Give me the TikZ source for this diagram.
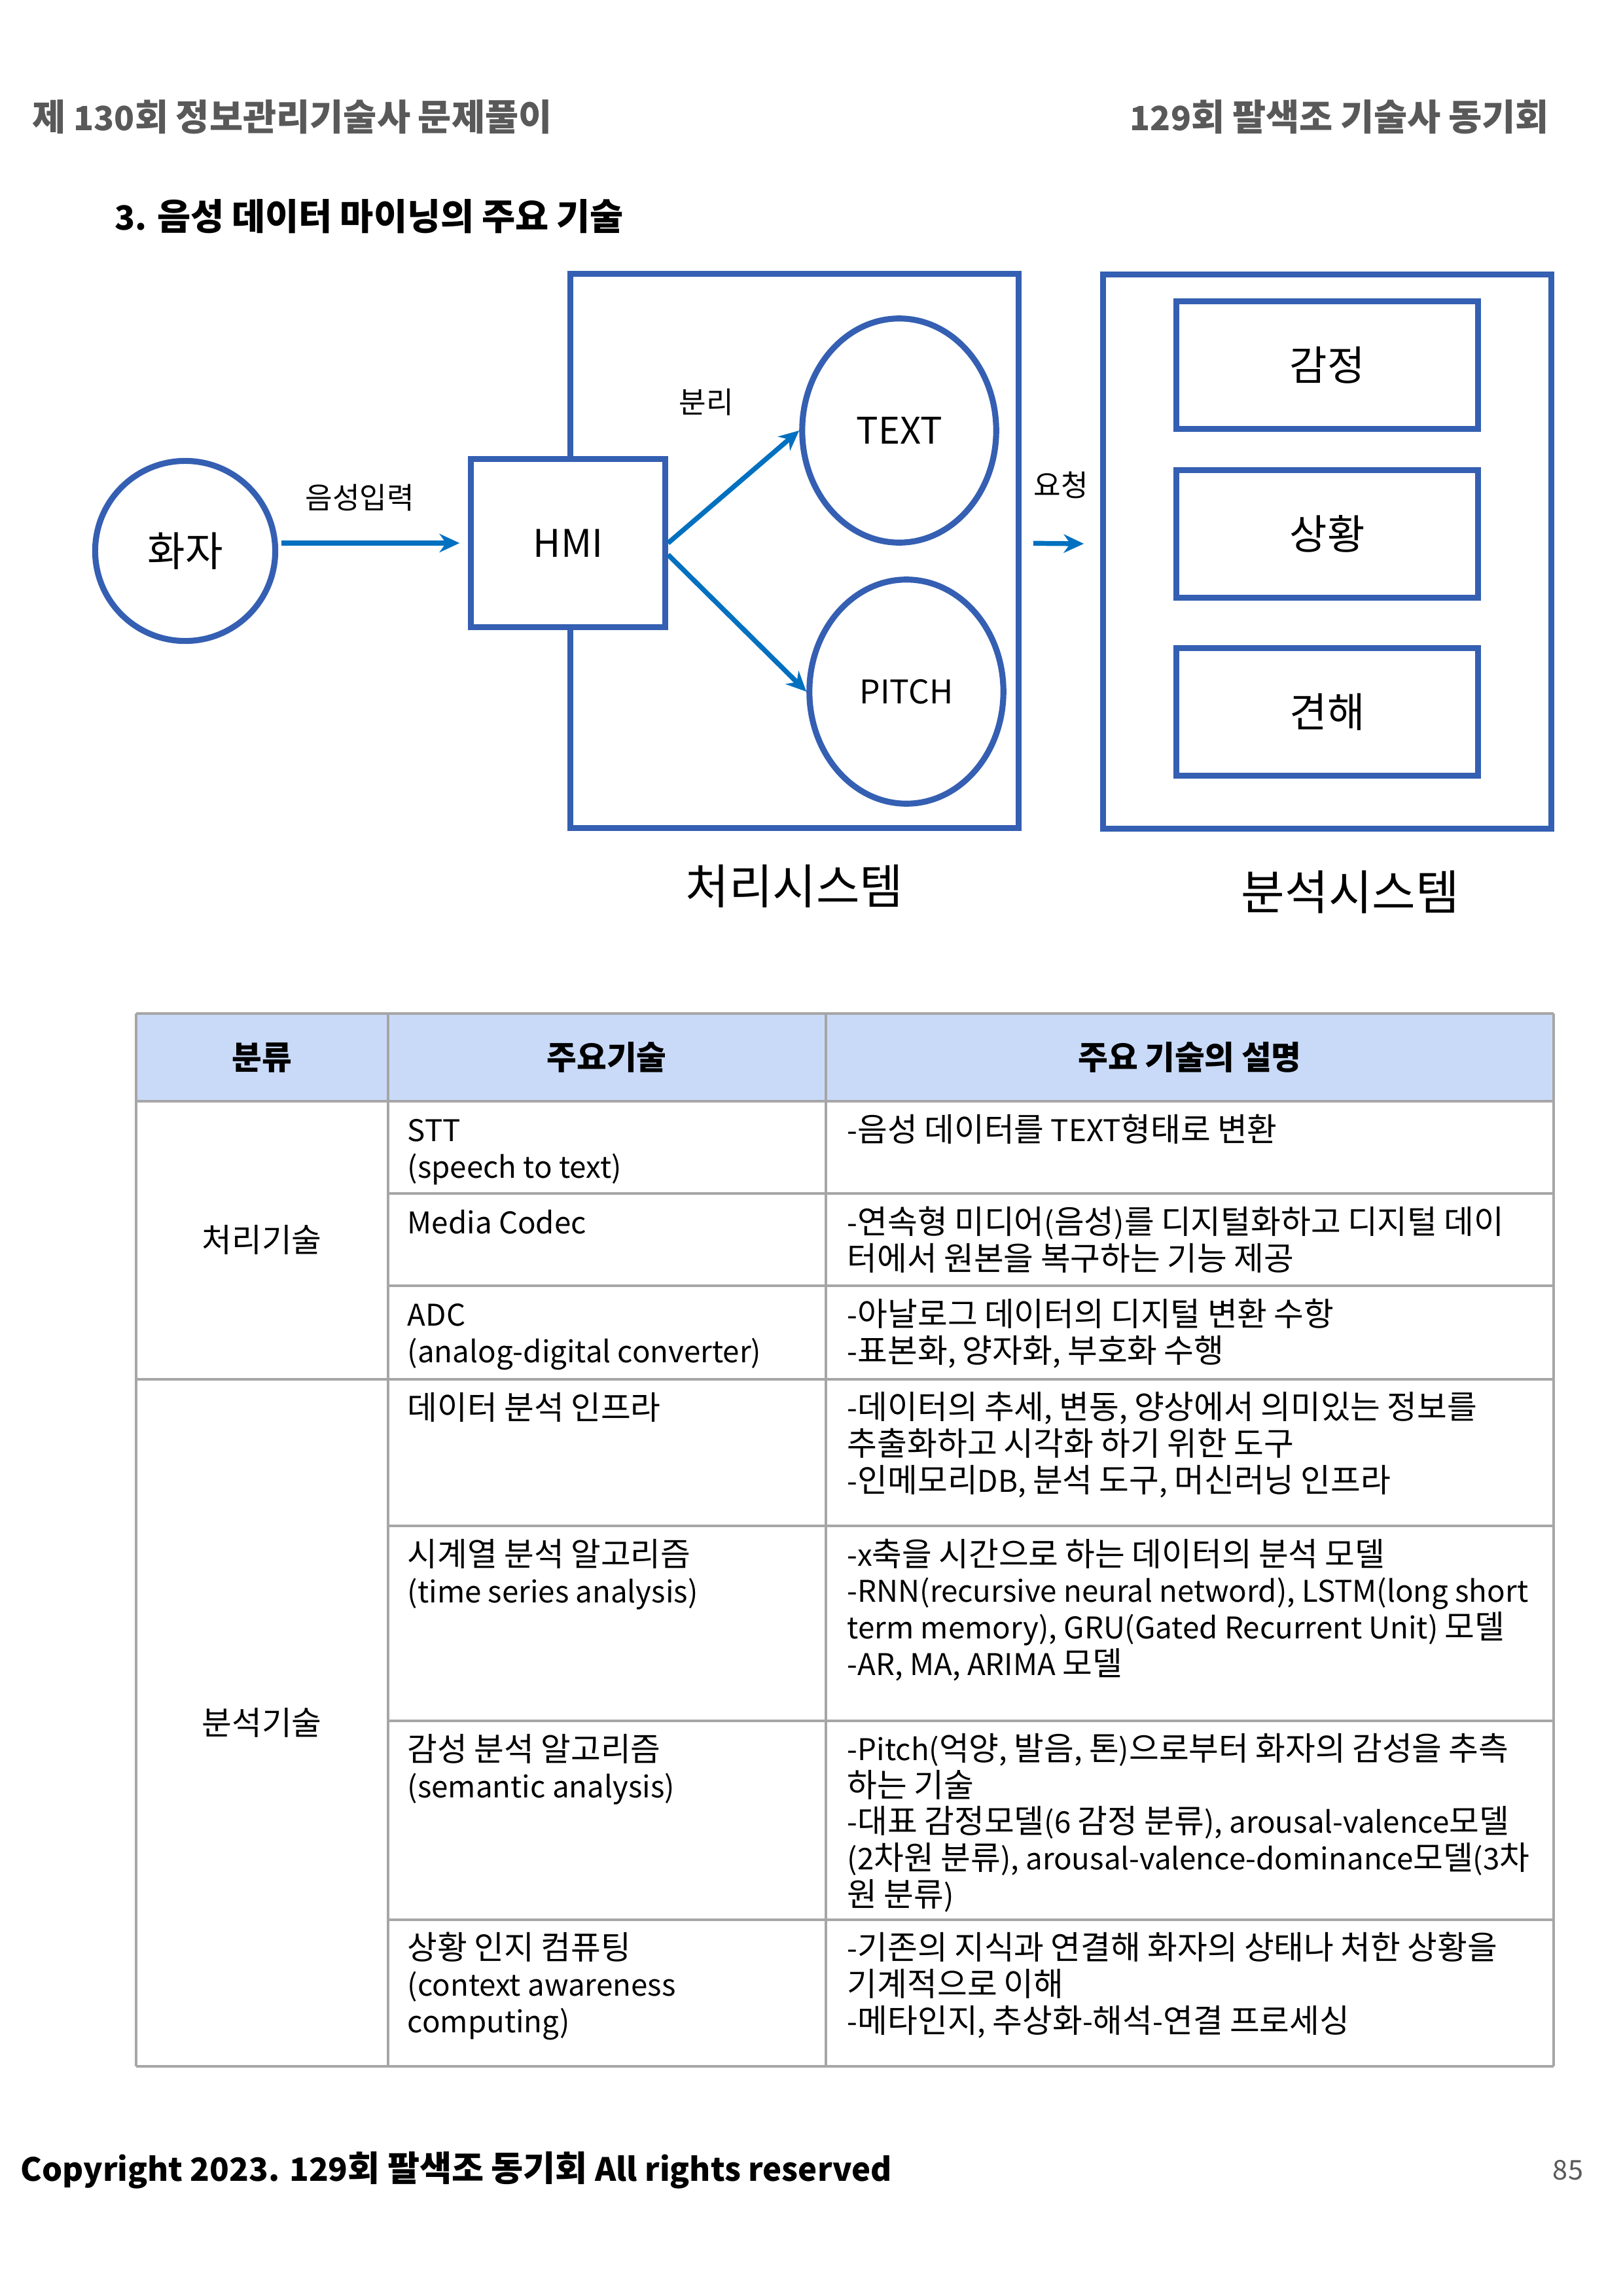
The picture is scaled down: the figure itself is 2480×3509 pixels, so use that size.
\documentclass[tikz,border=0pt]{standalone}
\usepackage{fontspec}
\setmainfont{Noto Sans CJK KR}
\newfontfamily\hangulfont{Noto Sans CJK KR}[Scale=1.09]
\usetikzlibrary{arrows.meta,calc,positioning,shapes.geometric}
\definecolor{shapeblue}{RGB}{52,95,178}
\definecolor{flowblue}{RGB}{0,112,192}
\definecolor{headfill}{HTML}{C9DAF8}
\definecolor{headgray}{RGB}{89,89,89}
\definecolor{gridgray}{RGB}{166,166,166}
% Hangul syllables a bit larger than the Latin letters
\newXeTeXintercharclass\hangulclass
\count255="AC00
\loop
  \XeTeXcharclass\count255=\hangulclass
  \ifnum\count255<"D7A3 \advance\count255 by 1 \repeat
\XeTeXinterchartoks 0 \hangulclass={\begingroup\hangulfont}
\XeTeXinterchartoks 4095 \hangulclass={\begingroup\hangulfont}
\XeTeXinterchartoks \hangulclass 0={\endgroup}
\XeTeXinterchartoks \hangulclass 4095={\endgroup}
\XeTeXinterchartokenstate=1

\begin{document}
\begin{tikzpicture}[x=0.08467mm,y=-0.08467mm,>=Stealth]
    \tikzset{
      person/.style={circle, draw=shapeblue, line width=2.2pt, minimum size=23.3mm, inner sep=0pt, font=\fontsize{13.8}{17}\selectfont},
      hmibox/.style={rectangle, draw=shapeblue, fill=white, line width=2.2pt, minimum width=25.1mm, minimum height=21.7mm, font=\fontsize{14}{17}\selectfont},
      sysbox/.style={rectangle, draw=shapeblue, line width=2.2pt, minimum width=58.0mm, minimum height=71.7mm},
      oval/.style={ellipse, draw=shapeblue, line width=2.2pt, minimum width=25.1mm, minimum height=29.0mm, inner sep=0pt},
      subbox/.style={rectangle, draw=shapeblue, line width=2.2pt, minimum width=39.1mm, minimum height=16.5mm, font=\fontsize{13.8}{17}\selectfont},
      flow/.style={-{Stealth[length=2.6mm,width=2.4mm]}, line width=1.8pt, draw=flowblue},
      lbl/.style={inner sep=0pt, font=\fontsize{10}{12}\selectfont},
      syslbl/.style={inner sep=0pt, font=\fontsize{16}{19}\selectfont},
      grid/.style={draw=gridgray, line width=0.9pt},
      hdr/.style={font=\bfseries\fontsize{11}{13.4}\selectfont},
      grp/.style={font=\fontsize{11}{13.4}\selectfont},
      cell/.style={anchor=base west, inner sep=0pt, align=left, font=\fontsize{11}{13.4}\selectfont}
    }
    \fill[white] (0,0) rectangle (2480,3509);
    \useasboundingbox (0,0) rectangle (2480,3509);

    % page header
    \node[anchor=west, inner sep=0pt, text=headgray, font=\bfseries\fontsize{12.3}{15}\selectfont] (headl) at (49,179) {제 130회 정보관리기술사 문제풀이};
    \node[anchor=east, inner sep=0pt, text=headgray, font=\bfseries\fontsize{12.3}{15}\selectfont] (headr) at (2368,179) {129회 팔색조 기술사 동기회};
    \node[anchor=west, inner sep=0pt, font=\bfseries\fontsize{12.3}{15}\selectfont] (title) at (175,331) {3. 음성 데이터 마이닝의 주요 기술};

    % diagram
    \node[sysbox] (proc) at (1214,842) {};
    \node[sysbox] (anal) at (2028,843) {};
    \node[person] (speaker) at (283,842) {화자};
    \node[hmibox] (hmi) at (868,830) {HMI};
    \node[oval, font=\fontsize{13.5}{16}\selectfont] (textov) at (1374,658) {TEXT};
    \node[oval, font=\fontsize{12}{14}\selectfont] (pitchov) at (1385,1057) {PITCH};
    \node[subbox] (emotion) at (2028,558) {감정};
    \node[subbox, below=4.6mm of emotion] (situation) {상황};
    \node[subbox, below=5.7mm of situation] (opinion) {견해};
    \node[syslbl, below=4.3mm of proc] (proclbl) {처리시스템};
    \node[syslbl, below=5mm of anal, xshift=3mm] (anallbl) {분석시스템};
    \node[lbl] (split) at (1079,615) {분리};

    \draw[flow, shorten <=0.4mm, shorten >=1.1mm] (speaker.east |- hmi.west) -- node[lbl, pos=0.43, above=3.8mm]{음성입력} (hmi.west);
    \draw[flow] (hmi.east) -- (textov.west);
    \draw[flow] ([yshift=-1.5mm]hmi.east) -- (pitchov.west);
    \draw[flow, shorten <=1.5mm, shorten >=2.1mm] ([yshift=1mm]proc.east) -- node[lbl, above=5.5mm]{요청} ([yshift=1mm]anal.west);

    % table
    \fill[headfill] (208,1549) rectangle (2374,1683);
    \draw[grid] (208,1549) -- (2374,1549);
    \draw[grid] (208,1683) -- (2374,1683);
    \draw[grid] (593,1824) -- (2374,1824);
    \draw[grid] (593,1965) -- (2374,1965);
    \draw[grid] (208,2108) -- (2374,2108);
    \draw[grid] (593,2332) -- (2374,2332);
    \draw[grid] (593,2630) -- (2374,2630);
    \draw[grid] (593,2934) -- (2374,2934);
    \draw[grid] (208,3158) -- (2374,3158);
    \draw[grid] (208,1549) -- (208,3158);
    \draw[grid] (593,1549) -- (593,3158);
    \draw[grid] (1262,1549) -- (1262,3158);
    \draw[grid] (2374,1549) -- (2374,3158);

    \node[hdr] (hcat) at (400,1616) {분류};
    \node[hdr] (htech) at (927,1616) {주요기술};
    \node[hdr] (hdesc) at (1818,1616) {주요 기술의 설명};
    \node[grp] (gproc) at (400,1895) {처리기술};
    \node[grp] (ganal) at (400,2633) {분석기술};

    % cells sit on the baseline of their last line
    \node[cell] (stt) at (622,1800) {STT\\(speech to text)};
    \node[cell] (sttd) at (1294,1744) {-음성 데이터를 TEXT형태로 변환};
    \node[cell] (codec) at (622,1885) {Media Codec};
    \node[cell] (codecd) at (1294,1941) {-연속형 미디어(음성)를 디지털화하고 디지털 데이\\터에서 원본을 복구하는 기능 제공};
    \node[cell] (adc) at (622,2082) {ADC\\(analog-digital converter)};
    \node[cell] (adcd) at (1294,2082) {-아날로그 데이터의 디지털 변환 수항\\-표본화, 양자화, 부호화 수행};
    \node[cell] (infra) at (622,2169) {데이터 분석 인프라};
    \node[cell] (infrad) at (1294,2280) {-데이터의 추세, 변동, 양상에서 의미있는 정보를\\추출화하고 시각화 하기 위한 도구\\-인메모리DB, 분석 도구, 머신러닝 인프라};
    \node[cell] (tsa) at (622,2449) {시계열 분석 알고리즘\\(time series analysis)};
    \node[cell] (tsad) at (1294,2560) {-x축을 시간으로 하는 데이터의 분석 모델\\-RNN(recursive neural netword), LSTM(long short\\term memory), GRU(Gated Recurrent Unit) 모델\\-AR, MA, ARIMA 모델};
    \node[cell] (sema) at (622,2747) {감성 분석 알고리즘\\(semantic analysis)};
    \node[cell] (semad) at (1294,2913) {-Pitch(억양, 발음, 톤)으로부터 화자의 감성을 추측\\하는 기술\\-대표 감정모델(6 감정 분류), arousal-valence모델\\(2차원 분류), arousal-valence-dominance모델(3차\\원 분류)};
    \node[cell] (ctx) at (622,3106) {상황 인지 컴퓨팅\\(context awareness\\computing)};
    \node[cell] (ctxd) at (1294,3106) {-기존의 지식과 연결해 화자의 상태나 처한 상황을\\기계적으로 이해\\-메타인지, 추상화-해석-연결 프로세싱};

    % footer
    \node[anchor=west, inner sep=0pt, font=\bfseries\fontsize{11.8}{14}\selectfont] (copy) at (31,3317) {Copyright 2023. 129회 팔색조 동기회 All rights reserved};
    \node[inner sep=0pt, text=headgray, font=\fontsize{10}{12}\selectfont] (pageno) at (2396,3317) {85};
  \end{tikzpicture}
\end{document}
